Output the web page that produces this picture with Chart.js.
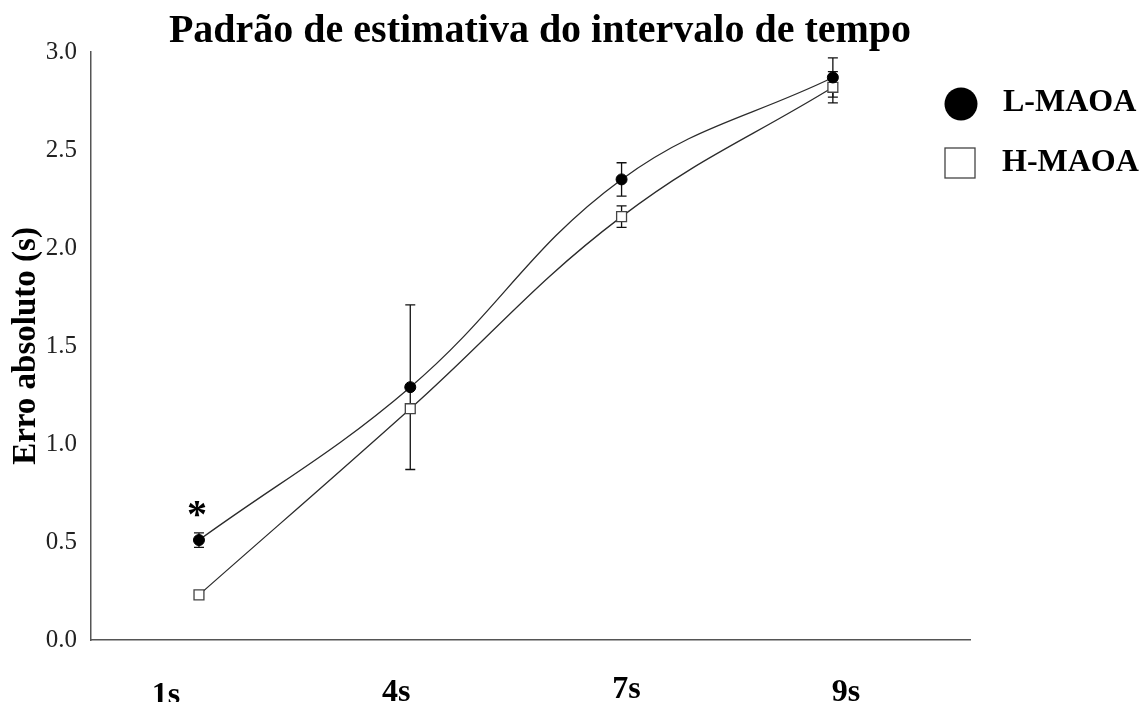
<!DOCTYPE html>
<html>
<head>
<meta charset="utf-8">
<script src="https://cdn.jsdelivr.net/npm/chart.js@4.4.1/dist/chart.umd.min.js"></script>
<style>
  html, body { margin: 0; padding: 0; background: #fff; }
  canvas { display: block; }
</style>
</head>
<body>
<canvas id="chart" width="1141" height="702"></canvas>
<script>
const categories = ['1s', '4s', '7s', '9s'];
const lMaoa = [0.51, 1.29, 2.35, 2.87];
const lMaoaErr = [0.037, 0.42, 0.085, 0.10];
const hMaoa = [0.23, 1.18, 2.16, 2.82];
const hMaoaErr = [0.01, 0.02, 0.055, 0.08];
const yTicks = [0, 0.5, 1.0, 1.5, 2.0, 2.5, 3.0];
const seriesNames = ['L-MAOA', 'H-MAOA'];
const titleText = 'Padrão de estimativa do intervalo de tempo';
const yTitle = 'Erro absoluto (s)';

// the category labels in the original sit a little off their points
const xLabelNudge = [[-33, 704], [-14, 701], [5, 698], [13, 701]];

const SERIF = '"Liberation Serif", "Times New Roman", serif';

function toPoints(vals){
  return vals.map((v, i) => ({ x: i, y: v }));
}

// error bars go under the markers
const errorBars = {
  id: 'errorBars',
  beforeDatasetsDraw(chart){
    const { ctx, scales: { x, y } } = chart;
    ctx.save();
    ctx.strokeStyle = '#111';
    ctx.lineWidth = 1.3;
    [[lMaoa, lMaoaErr], [hMaoa, hMaoaErr]].forEach(([vals, errs]) => {
      vals.forEach((v, i) => {
        const px = x.getPixelForValue(i);
        const top = y.getPixelForValue(v + errs[i]);
        const bot = y.getPixelForValue(v - errs[i]);
        ctx.beginPath();
        ctx.moveTo(px, top); ctx.lineTo(px, bot);
        ctx.moveTo(px - 5, top); ctx.lineTo(px + 5, top);
        ctx.moveTo(px - 5, bot); ctx.lineTo(px + 5, bot);
        ctx.stroke();
      });
    });
    ctx.restore();
  }
};

// title, category labels, asterisk and the legend on the right
const extras = {
  id: 'extras',
  afterDraw(chart){
    const { ctx, scales: { x, y } } = chart;
    ctx.save();
    ctx.fillStyle = '#000';
    ctx.textAlign = 'center';
    ctx.textBaseline = 'alphabetic';
    ctx.font = 'bold 40px ' + SERIF;
    ctx.fillText(titleText, 540, 42);

    ctx.font = 'bold 32px ' + SERIF;
    categories.forEach((c, i) => {
      const [dx, by] = xLabelNudge[i];
      ctx.fillText(c, x.getPixelForValue(i) + dx, by);
    });

    ctx.font = 'bold 40px ' + SERIF;
    ctx.fillText('*', x.getPixelForValue(0) - 2, y.getPixelForValue(lMaoa[0] + lMaoaErr[0]) - 6);

    // legend
    ctx.beginPath();
    ctx.arc(961, 104, 16.5, 0, Math.PI * 2);
    ctx.fill();
    ctx.fillStyle = '#fff';
    ctx.strokeStyle = '#444';
    ctx.lineWidth = 1.3;
    ctx.fillRect(945, 148, 30, 30);
    ctx.strokeRect(945, 148, 30, 30);
    ctx.fillStyle = '#000';
    ctx.textAlign = 'left';
    ctx.font = 'bold 32px ' + SERIF;
    ctx.fillText(seriesNames[0], 1003, 111);
    ctx.fillText(seriesNames[1], 1002, 171);
    ctx.restore();
  }
};

new Chart(document.getElementById('chart'), {
  type: 'line',
  data: {
    datasets: [{
      label: seriesNames[0],
      data: toPoints(lMaoa),
      borderColor: '#2b2b2b',
      borderWidth: 1.3,
      tension: 0.4,
      pointStyle: 'circle',
      pointRadius: 5.5,
      pointBackgroundColor: '#000',
      pointBorderColor: '#000',
      pointBorderWidth: 1
    }, {
      label: seriesNames[1],
      data: toPoints(hMaoa),
      borderColor: '#2b2b2b',
      borderWidth: 1.3,
      tension: 0.4,
      pointStyle: 'rect',
      pointRadius: 7,
      pointBackgroundColor: '#fff',
      pointBorderColor: '#444',
      pointBorderWidth: 1.3
    }]
  },
  options: {
    responsive: false,
    animation: false,
    layout: { padding: { left: 0, right: 171, top: 52, bottom: 0 } },
    plugins: {
      legend: { display: false },
      title: { display: false },
      tooltip: { enabled: false }
    },
    scales: {
      x: {
        type: 'linear',
        min: -0.511,
        max: 3.649,
        afterBuildTicks: s => { s.ticks = categories.map((c, i) => ({ value: i })); },
        afterFit: s => { s.height = 62; },
        grid: { display: false, drawTicks: false },
        border: { display: true, color: '#555', width: 1.5 },
        ticks: { display: false }
      },
      y: {
        min: 0,
        max: 3,
        afterBuildTicks: s => { s.ticks = yTicks.map(v => ({ value: v })); },
        afterFit: s => { s.width = 91; },
        grid: { display: false, drawTicks: false },
        border: { display: true, color: '#555', width: 1.5 },
        ticks: {
          padding: 14,
          color: '#222',
          font: { family: SERIF, size: 25 },
          callback: v => v.toFixed(1)
        },
        title: {
          display: true,
          text: yTitle,
          color: '#000',
          padding: { top: 7, bottom: 0 },
          font: { family: SERIF, size: 33, weight: 'bold' }
        }
      }
    }
  },
  plugins: [errorBars, extras]
});
</script>
</body>
</html>
